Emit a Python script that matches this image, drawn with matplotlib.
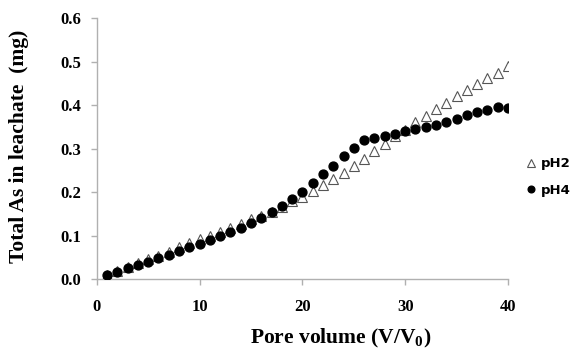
import matplotlib.pyplot as plt
import numpy as np

plt.rcParams['mathtext.fontset'] = 'custom'
plt.rcParams['mathtext.bf'] = 'Liberation Serif:bold'
plt.rcParams['mathtext.rm'] = 'Liberation Serif:bold'

pore_volume = list(range(1, 41))

ph2 = [0.010, 0.018, 0.027, 0.036, 0.045, 0.054, 0.063, 0.073, 0.082, 0.091,
       0.100, 0.109, 0.118, 0.127, 0.137, 0.146, 0.155, 0.166, 0.179, 0.189,
       0.203, 0.216, 0.230, 0.245, 0.261, 0.276, 0.295, 0.311, 0.329, 0.343,
       0.361, 0.376, 0.391, 0.406, 0.420, 0.434, 0.448, 0.462, 0.475, 0.490]

ph4 = [0.009, 0.016, 0.025, 0.032, 0.040, 0.048, 0.056, 0.064, 0.073, 0.081,
       0.090, 0.098, 0.107, 0.117, 0.129, 0.140, 0.154, 0.167, 0.183, 0.200,
       0.220, 0.241, 0.261, 0.283, 0.302, 0.320, 0.325, 0.329, 0.334, 0.341,
       0.346, 0.350, 0.355, 0.361, 0.368, 0.378, 0.384, 0.389, 0.395, 0.394]

fig = plt.figure(figsize=(5.70, 3.49), dpi=100)
ax = fig.add_axes([0.1697, 0.2006, 0.7216, 0.747])

ax.plot(pore_volume, ph2, linestyle='none', marker='^', ms=7, mfc='white',
        mec='#555555', mew=0.8, label='pH2', zorder=2)
ax.plot(pore_volume, ph4, linestyle='none', marker='o', ms=6.4, mfc='black',
        mec='black', label='pH4', zorder=3)

ax.set_xlim(0, 40)
ax.set_ylim(0, 0.6)
ax.set_xticks(np.arange(0, 41, 10))
ax.set_yticks(np.arange(0, 0.61, 0.1))
ax.yaxis.set_major_formatter(plt.FormatStrFormatter('%.1f'))

for side in ['top', 'right']:
    ax.spines[side].set_visible(False)
for side in ['left', 'bottom']:
    ax.spines[side].set_color('#b0b0b0')
    ax.spines[side].set_linewidth(1.0)
ax.tick_params(colors='#b0b0b0', length=4.3, width=1.0, labelcolor='black')
ax.tick_params(axis='x', pad=10)
ax.tick_params(axis='y', pad=7)

serif = 'Liberation Serif'
for lab in ax.get_xticklabels() + ax.get_yticklabels():
    lab.set_fontfamily(serif)
    lab.set_fontweight('bold')
    lab.set_fontsize(12)

# subscript 0 via mathtext, bold serif
xl = ax.set_xlabel('Pore volume (V/V$_\\mathbf{0}$)', fontfamily=serif,
                   fontweight='bold', fontsize=15.5)
xl.set_va('baseline')
ax.xaxis.set_label_coords(0.592, -0.2455)

yl = ax.set_ylabel('Total As in leachate  (mg)', fontfamily=serif,
                   fontweight='bold', fontsize=15.5)
yl.set_va('center')
ax.yaxis.set_label_coords(-0.188, 0.51)

leg = ax.legend(loc='center left', bbox_to_anchor=(1.044, 0.391), frameon=False,
                borderaxespad=0, borderpad=0, markerscale=0.75,
                handlelength=0.8, handletextpad=0.3, labelspacing=1.0,
                prop={'family': 'DejaVu Sans', 'weight': 'bold', 'size': 9.5})

fig.savefig('out.png', dpi=100)
